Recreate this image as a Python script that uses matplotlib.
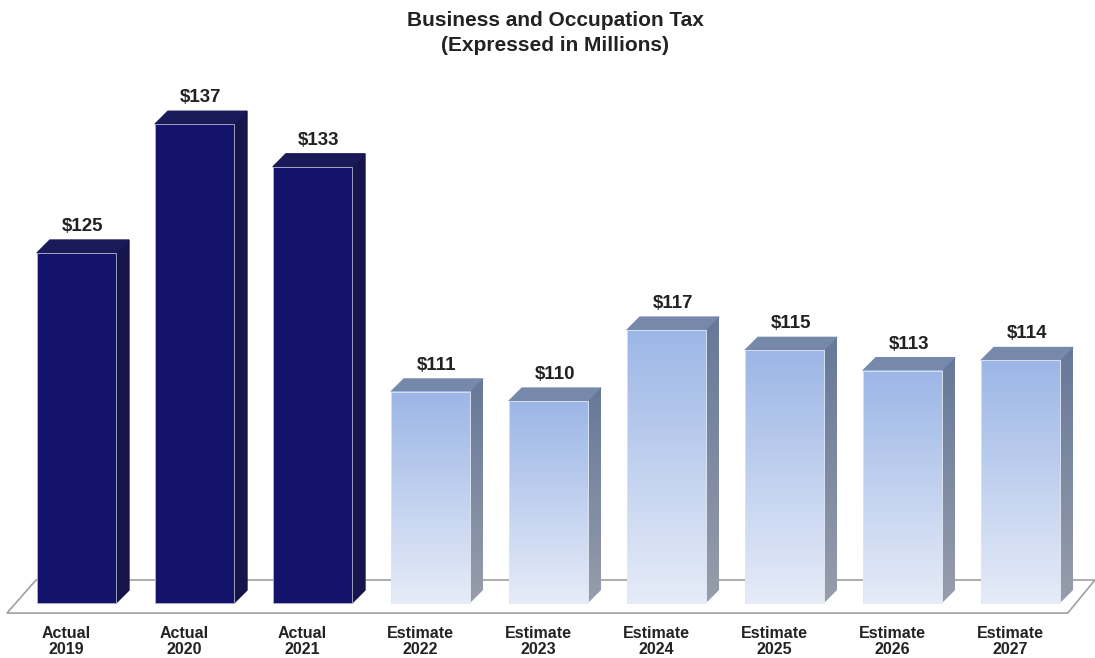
import matplotlib
matplotlib.use("Agg")
import matplotlib.pyplot as plt
import numpy as np
from matplotlib.patches import Polygon
from matplotlib.colors import LinearSegmentedColormap

plt.rcParams["font.family"] = ["Liberation Sans", "DejaVu Sans"]

# datos
categorias = ["Actual\n2019", "Actual\n2020", "Actual\n2021", "Estimate\n2022",
              "Estimate\n2023", "Estimate\n2024", "Estimate\n2025",
              "Estimate\n2026", "Estimate\n2027"]
valores = [124.6, 137.3, 133.1, 110.9, 110.0, 117.0, 115.0, 113.0, 114.0]
es_real = [True, True, True, False, False, False, False, False, False]

base = 90.08          # valor donde apoya la base de las barras
ancho = 0.67
dx, dy = 0.11, 1.28   # profundidad del efecto 3D (unidades de datos)

fig = plt.figure(figsize=(10.95, 6.58), dpi=100)
ax = fig.add_axes([0, 0, 1, 1])
ax.set_xlim(-0.648, 8.631)
ax.set_ylim(84.66, 149.55)
ax.axis("off")

# piso
piso = Polygon([(-0.589, 89.09), (8.40, 89.09), (8.63, 92.35), (-0.343, 92.35)],
               closed=True, facecolor="white", edgecolor="#a0a0a0", lw=1.2, zorder=1)
ax.add_patch(piso)

cmap_frente = LinearSegmentedColormap.from_list("fr", ["#e6ecf8", "#9cb6e6"])
cmap_lado = LinearSegmentedColormap.from_list("la", ["#979dab", "#667899"])
grad = np.linspace(0, 1, 256).reshape(-1, 1)

for i, (v, real) in enumerate(zip(valores, es_real)):
    x0, x1 = i - ancho / 2, i + ancho / 2
    lado = Polygon([(x1, base), (x1 + dx, base + dy), (x1 + dx, v + dy), (x1, v)],
                   closed=True, zorder=2)
    techo = Polygon([(x0, v), (x1, v), (x1 + dx, v + dy), (x0 + dx, v + dy)],
                    closed=True, zorder=2)
    if real:
        lado.set_facecolor("#15154c")
        lado.set_edgecolor("#15154c")
        techo.set_facecolor("#1a1a58")
        techo.set_edgecolor("#1a1a58")
        ax.add_patch(lado)
        ax.add_patch(techo)
        ax.add_patch(Polygon([(x0, base), (x1, base), (x1, v), (x0, v)], closed=True,
                             facecolor="#13136c", edgecolor="#b4b4cc", lw=0.6, zorder=3))
    else:
        techo.set_facecolor("#7689ab")
        techo.set_edgecolor("#7689ab")
        ax.add_patch(techo)
        lado.set_facecolor("none")
        lado.set_edgecolor("none")
        ax.add_patch(lado)
        im = ax.imshow(grad, extent=[x1, x1 + dx, base, v + dy], origin="lower",
                       cmap=cmap_lado, aspect="auto", zorder=2)
        im.set_clip_path(lado)
        ax.imshow(grad, extent=[x0, x1, base, v], origin="lower",
                  cmap=cmap_frente, aspect="auto", zorder=3)
        ax.add_patch(Polygon([(x0, base), (x1, base), (x1, v), (x0, v)], closed=True,
                             facecolor="none", edgecolor="#dfe5f0", lw=0.6, zorder=3))

    ax.text(i + dx / 2, v + dy + 0.5, f"${round(v)}", ha="center", va="bottom",
            fontsize=13.5, fontweight="bold", color="#222222", zorder=4)
    ax.text(i - 0.085, 87.85, categorias[i], ha="center", va="top",
            fontsize=11.5, fontweight="bold", color="#222222", linespacing=1.15)

fig.text(0.507, 0.984, "Business and Occupation Tax\n(Expressed in Millions)",
         ha="center", va="top", fontsize=15, fontweight="bold", color="#222222",
         linespacing=1.45)

fig.savefig("out.png", dpi=100)
